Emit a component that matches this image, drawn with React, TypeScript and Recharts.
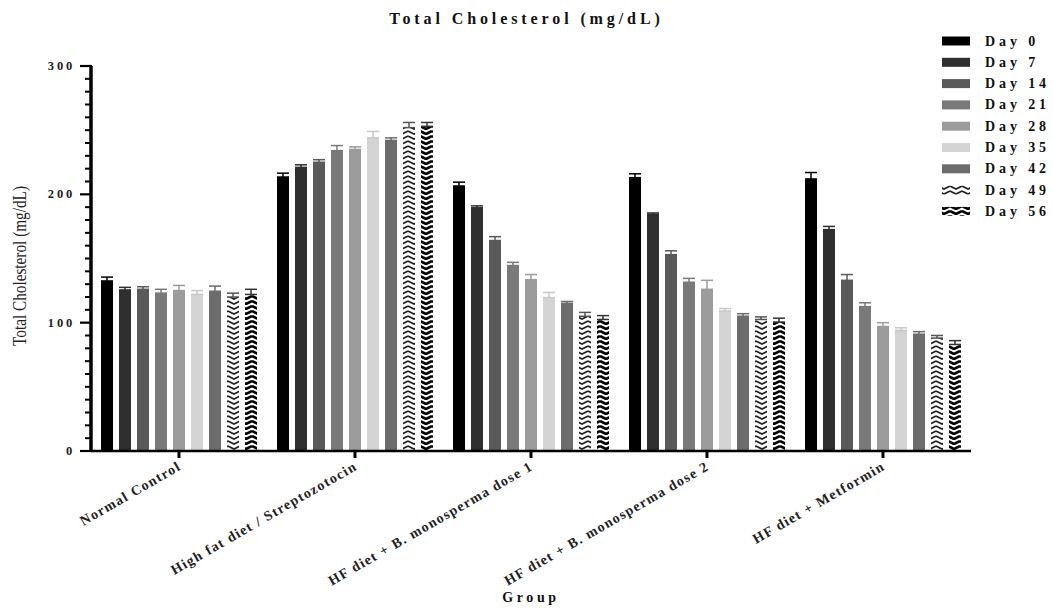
import { Bar, BarChart, ErrorBar, Legend, XAxis, YAxis } from 'recharts';

const groups = [
  'Normal Control',
  'High fat diet / Streptozotocin',
  'HF diet + B. monosperma dose 1',
  'HF diet + B. monosperma dose 2',
  'HF diet + Metformin',
];
const dayLabels = ['Day 0', 'Day 7', 'Day 14', 'Day 21', 'Day 28', 'Day 35', 'Day 42', 'Day 49', 'Day 56'];

// mean total cholesterol per group, one array per sampling day
const day0 = [132.5, 213.5, 206.5, 213, 212];
const day7 = [125.5, 221, 189.5, 184.5, 172.5];
const day14 = [126, 225, 164, 153, 133];
const day21 = [123, 234, 144.5, 131.5, 112.5];
const day28 = [125, 235, 133.5, 126, 97];
const day35 = [122, 244, 119.5, 109, 94];
const day42 = [124.5, 242, 115, 105, 91];
const day49 = [120, 252, 105, 102.5, 88];
const day56 = [122, 253, 102.5, 100.5, 83];

// SEM (upper whisker only)
const sem0 = [3, 3, 3, 3, 5];
const sem7 = [2, 2, 1.5, 1, 2.5];
const sem14 = [2, 2, 3, 3, 4.5];
const sem21 = [3, 4, 2.5, 3, 3];
const sem28 = [4, 2, 4, 7, 3];
const sem35 = [3, 5, 4, 2, 2];
const sem42 = [4, 2, 1.5, 2, 2];
const sem49 = [3, 4, 3, 2, 2];
const sem56 = [4, 3, 3, 3, 3];

const Y_MAX = 300;
const majorTicks = [0, 100, 200, 300];
const minorTicks = [10, 20, 30, 40, 50, 60, 70, 80, 90, 110, 120, 130, 140, 150, 160, 170, 180, 190, 210, 220, 230, 240, 250, 260, 270, 280, 290];

const means = [day0, day7, day14, day21, day28, day35, day42, day49, day56];
const sems = [sem0, sem7, sem14, sem21, sem28, sem35, sem42, sem49, sem56];

const fills = ['#000000', '#2f2f2f', '#5a5a5a', '#7a7a7a', '#9c9c9c', '#d4d4d4', '#6c6c6c', 'url(#zigLight)', 'url(#zigDark)'];
const whiskers = ['#000000', '#2f2f2f', '#5a5a5a', '#7a7a7a', '#9c9c9c', '#c8c8c8', '#6c6c6c', '#555555', '#333333'];

const rows = groups.map((group, i) => {
  const row: Record<string, unknown> = { group };
  dayLabels.forEach((_, j) => {
    row[`d${j}`] = means[j][i];
    row[`e${j}`] = [0, sems[j][i]];
  });
  return row;
});

const FONT = '"Liberation Serif", "DejaVu Serif", serif';

// long tick plus label at every hundred
function MajorTick({ x, y, payload }: any) {
  return (
    <g>
      <line x1={x - 11} x2={x + 1} y1={y} y2={y} stroke="#000" strokeWidth={2.2} />
      <text
        x={x - 16}
        y={y}
        textAnchor="end"
        dominantBaseline="central"
        fontFamily={FONT}
        fontWeight="bold"
        fontSize={12.5}
        letterSpacing={2.8}
        fill="#222"
      >
        {payload.value}
      </text>
    </g>
  );
}

// axis title plus the minor comb, laid out inside the y axis box
function YAxisDecor({ viewBox }: any) {
  const { x, y, width, height } = viewBox;
  const right = x + width;
  return (
    <g>
      {minorTicks.map((v) => {
        const ty = y + height * (1 - v / Y_MAX);
        return <line key={v} x1={right - 6} x2={right + 1} y1={ty} y2={ty} stroke="#000" strokeWidth={2} />;
      })}
      <text
        x={26}
        y={266}
        transform="rotate(-90 26 266)"
        textAnchor="middle"
        fontFamily={FONT}
        fontSize={18}
        textLength={160}
        lengthAdjust="spacingAndGlyphs"
        fill="#222"
      >
        Total Cholesterol (mg/dL)
      </text>
    </g>
  );
}

function XTick({ x, y, payload }: any) {
  return (
    <text
      x={x + 3}
      y={y + 9}
      transform={`rotate(-30 ${x + 3} ${y + 9})`}
      textAnchor="end"
      fontFamily={FONT}
      fontWeight="bold"
      fontSize={14}
      letterSpacing={1.3}
      fill="#222"
    >
      {payload.value}
    </text>
  );
}

function Swatches() {
  return (
    <svg width={115} height={200}>
      {dayLabels.map((d, i) => {
        const cy = 11 + i * 21.3;
        return (
          <g key={d}>
            <rect x={4} y={cy - 4.5} width={28} height={9} fill={fills[i]} />
            <text
              x={47}
              y={cy}
              dominantBaseline="central"
              fontFamily={FONT}
              fontWeight="bold"
              fontSize={14}
              letterSpacing={3.9}
              fill="#111"
            >
              {d}
            </text>
          </g>
        );
      })}
    </svg>
  );
}

export default function App() {
  return (
    <div style={{ position: 'absolute', left: 0, top: 0, width: 1053, height: 608, background: '#fff' }}>
      <div
        style={{
          position: 'absolute',
          top: 10,
          left: 0,
          width: 1053,
          textAlign: 'center',
          fontFamily: FONT,
          fontWeight: 'bold',
          fontSize: 16,
          letterSpacing: 3.9,
          color: '#111',
        }}
      >
        Total Cholesterol (mg/dL)
      </div>
      <BarChart
        width={1053}
        height={608}
        data={rows}
        margin={{ top: 66, right: 82, bottom: 127, left: 31 }}
        barSize={12}
        barGap={6}
      >
        <defs>
          <pattern id="zigLight" patternUnits="userSpaceOnUse" width={12} height={5}>
            <rect width={12} height={5} fill="#fff" />
            <path d="M0,1 L6,4 L12,1" stroke="#222" strokeWidth={1.6} fill="none" />
          </pattern>
          <pattern id="zigDark" patternUnits="userSpaceOnUse" width={12} height={5}>
            <rect width={12} height={5} fill="#fff" />
            <path d="M0,1 L6,4 L12,1" stroke="#000" strokeWidth={2.6} fill="none" />
          </pattern>
        </defs>
        <XAxis
          dataKey="group"
          interval={0}
          height={30}
          tickSize={7}
          tickMargin={2}
          axisLine={{ stroke: '#000', strokeWidth: 2.5 }}
          tickLine={{ stroke: '#000', strokeWidth: 3 }}
          tick={<XTick />}
          label={{
            content: () => (
              <text
                x={531}
                y={602}
                textAnchor="middle"
                fontFamily={FONT}
                fontWeight="bold"
                fontSize={14}
                letterSpacing={3.6}
                fill="#111"
              >
                Group
              </text>
            ),
          }}
        />
        <YAxis
          width={60}
          domain={[0, Y_MAX]}
          ticks={majorTicks}
          interval={0}
          tickSize={0}
          tickMargin={0}
          axisLine={{ stroke: '#000', strokeWidth: 3.5 }}
          tickLine={false}
          tick={<MajorTick />}
          label={{ content: (props: any) => <YAxisDecor {...props} /> }}
        />
        <Legend
          layout="horizontal"
          verticalAlign="middle"
          align="center"
          content={() => <Swatches />}
          wrapperStyle={{ position: 'absolute', left: 938, top: 30, width: 115, height: 200 }}
        />
        {dayLabels.map((d, j) => (
          <Bar key={d} dataKey={`d${j}`} name={d} fill={fills[j]} isAnimationActive={false}>
            <ErrorBar dataKey={`e${j}`} width={6} stroke={whiskers[j]} strokeWidth={1.5} direction="y" />
          </Bar>
        ))}
      </BarChart>
    </div>
  );
}
